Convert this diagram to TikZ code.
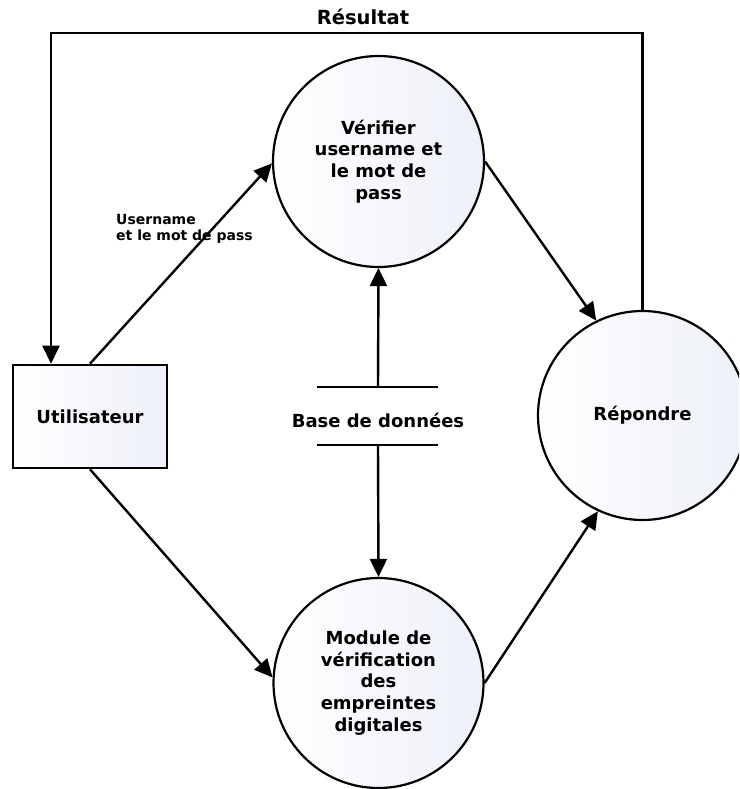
\documentclass[tikz,border=0pt]{standalone}
\usepackage{fontspec}
\setmainfont{DejaVu Sans}
\usetikzlibrary{arrows.meta}

\definecolor{shadeend}{RGB}{237,240,248}

\tikzset{
  proc/.style={circle, draw, line width=2.2pt, minimum size=#1, inner sep=0pt,
    left color=white, right color=shadeend, align=center,
    font=\bfseries\fontsize{18}{21.7}\selectfont},
  entity/.style={rectangle, draw, line width=2.6pt, minimum width=154pt,
    minimum height=103pt, inner sep=0pt, left color=white, right color=shadeend,
    font=\bfseries\fontsize{18}{21.7}\selectfont},
  store/.style={inner sep=0pt, font=\bfseries\fontsize{18}{21.7}\selectfont},
  storeline/.style={line width=2.4pt},
  flow/.style={line width=2.4pt, -{Triangle[length=18pt,width=17pt]}},
  lbl/.style={inner sep=0pt, align=left, font=\bfseries\fontsize{14}{16}\selectfont},
  title/.style={inner sep=0pt, font=\bfseries\fontsize{19.5}{22}\selectfont},
}

\begin{document}
\begin{tikzpicture}[x=1pt, y=-1pt]
  \useasboundingbox (0,0) rectangle (739,789);
  \clip (0,0) rectangle (739,789);

  % processes, actor and data store
  \node[entity] (user) at (90,416.5) {Utilisateur};
  \node[proc=211pt] (verif) at (378.5,161.5) {Vérifier\\username et\\le mot de\\pass};
  \node[proc=210pt] (module) at (378.5,683) {Module de\\vérification\\des\\empreintes\\digitales};
  \node[proc=209pt] (rep) at (642.5,415.5) {Répondre};

  \node[store] (db) at (378,420) {Base de données};
  \coordinate (dbtop) at (378,387);
  \coordinate (dbbot) at (378,445);
  \draw[storeline] (317,387) -- (438,387);
  \draw[storeline] (317,445) -- (438,445);

  % data flows
  \draw[flow] (user.north) -- (verif.181);
  \draw[flow] (user.south) -- (module.177);
  \draw[flow] (verif.0) -- (rep.116);
  \draw[flow] (module.0) -- (rep.245);
  \draw[flow] (dbtop) -- (verif.south);
  \draw[flow] (dbbot) -- (module.north);

  % result returned to the user
  \coordinate (ret) at (51,33);
  \draw[flow] (rep.north) |- (ret) -- (ret |- user.north);

  % labels
  \node[title] (res) at (363,17) {Résultat};
  \node[lbl, anchor=north west] (cred) at (116,214) {Username\\et le mot de pass};
\end{tikzpicture}
\end{document}
